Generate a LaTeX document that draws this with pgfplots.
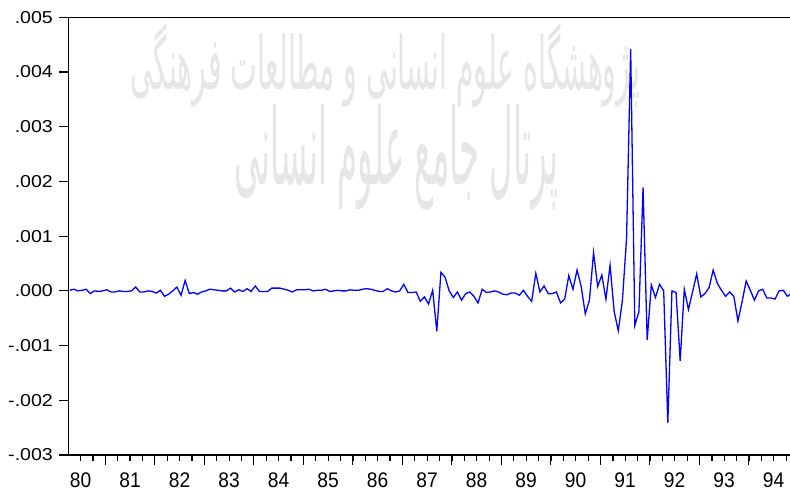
\documentclass[border=0pt]{standalone}
\usepackage{pgfplots}
\pgfplotsset{compat=1.18}
\usepackage{pgfplotstable}
\usepackage{graphicx}
\usepackage{fontspec}
\setmainfont{Liberation Sans}
\newfontfamily\arabicfont[Script=Arabic]{DejaVu Sans}
\TeXXeTstate=1
\definecolor{eblue}{RGB}{0,0,255}
\definecolor{wm}{RGB}{230,230,230}
\newcommand\yl[1]{\scalebox{1}[0.88]{#1}}
\newcommand\xl[1]{\scalebox{1}[1.1]{#1}}
\pgfplotstableread{
i v
0 0.00001
1 0.00003
2 0.0
3 0.00001
4 0.00003
5 -0.00005
6 0.0
7 -0.00001
8 0.0
9 0.00002
10 -0.00002
11 -0.00002
12 0.0
13 -0.00001
14 -0.00001
15 0.0
16 0.00007
17 -0.00002
18 -0.00002
19 0.0
20 -0.00001
21 -0.00004
22 0.00001
23 -0.0001
24 -0.00006
25 0.0
26 0.00007
27 -0.00008
28 0.00019
29 -0.00005
30 -0.00003
31 -0.00006
32 -0.00002
33 0.0
34 0.00003
35 0.00002
36 0.00001
37 0.0
38 0.0
39 0.00005
40 -0.00002
41 0.00002
42 -0.00001
43 0.00004
44 -0.00001
45 0.00009
46 -0.00001
47 -0.00001
48 -0.00001
49 0.00005
50 0.00005
51 0.00005
52 0.00003
53 0.00001
54 -0.00002
55 0.00002
56 0.00002
57 0.00002
58 0.00003
59 0.0
60 0.00001
61 0.00001
62 0.00003
63 -0.00001
64 0.0
65 0.00001
66 0.0
67 0.0
68 0.00002
69 0.00001
70 0.00001
71 0.00003
72 0.00004
73 0.00003
74 0.00001
75 -0.00001
76 -0.00001
77 0.00004
78 0.0
79 -0.00002
80 0.0
81 0.00012
82 -0.00003
83 -0.00003
84 -0.00002
85 -0.00019
86 -0.00011
87 -0.00024
88 0.00001
89 -0.00074
90 0.00034
91 0.00025
92 0.0
93 -0.00012
94 -0.00002
95 -0.00017
96 -0.00005
97 -0.00002
98 -0.0001
99 -0.00022
100 0.00003
101 -0.00003
102 -0.00002
103 0.0
104 -0.00002
105 -0.00006
106 -0.00007
107 -0.00004
108 -0.00004
109 -0.00008
110 0.00001
111 -0.0001
112 -0.00019
113 0.00032
114 -0.00002
115 0.00009
116 -0.00005
117 -0.00005
118 -0.00002
119 -0.00022
120 -0.00015
121 0.00028
122 0.00003
123 0.00038
124 0.00008
125 -0.00042
126 -0.00017
127 0.0007
128 0.00008
129 0.00029
130 -0.00015
131 0.00047
132 -0.00038
133 -0.00073
134 -0.00017
135 0.00096
136 0.00442
137 -0.00063
138 -0.00038
139 0.00189
140 -0.0009
141 0.00011
142 -0.00012
143 0.00012
144 0.0
145 -0.00241
146 0.0
147 -0.00003
148 -0.00128
149 0.00003
150 -0.00034
151 -0.00002
152 0.00031
153 -0.00011
154 -0.00005
155 0.00006
156 0.00038
157 0.00014
158 0.00001
159 -0.0001
160 -0.00002
161 -0.0001
162 -0.00055
163 -0.0002
164 0.00018
165 0.00001
166 -0.00017
167 0.0
168 0.00003
169 -0.00013
170 -0.00013
171 -0.00015
172 0.0
173 0.00001
174 -0.0001
175 -0.00004
}\datatab
\begin{document}
\begin{tikzpicture}
\begin{axis}[
  scale only axis, width=360.75pt, height=218.85pt,
  xmin=1980.2566, xmax=1994.832, ymin=-0.003, ymax=0.005,
  axis lines=left, axis line style={-, line width=0.6pt, black},
  scaled x ticks=false, scaled y ticks=false,
  tick align=outside,
  major tick length=4.75pt, minor tick length=2.8pt,
  every tick/.style={black, line width=0.6pt},
  ytick={-0.003,-0.002,-0.001,0,0.001,0.002,0.003,0.004,0.005},
  yticklabels={\yl{-.003},\yl{-.002},\yl{-.001},\yl{.000},\yl{.001},\yl{.002},\yl{.003},\yl{.004},\yl{.005}},
  yticklabel style={font=\fontsize{9.8}{10}\selectfont, inner sep=0pt, anchor=east, xshift=-2.85pt},
  xtick={1980.5,1981.5,1982.5,1983.5,1984.5,1985.5,1986.5,1987.5,1988.5,1989.5,1990.5,1991.5,1992.5,1993.5,1994.5},
  xticklabels={\xl{80},\xl{81},\xl{82},\xl{83},\xl{84},\xl{85},\xl{86},\xl{87},\xl{88},\xl{89},\xl{90},\xl{91},\xl{92},\xl{93},\xl{94}},
  major x tick style={draw=none},
  xticklabel style={font=\fontsize{9.6}{10}\selectfont, inner sep=0pt, anchor=north, yshift=-4.15pt},
  minor xtick={1980.25,1980.5,...,1994.75},
  extra x ticks={1981,1982,1983,1984,1985,1986,1987,1988,1989,1990,1991,1992,1993,1994},
  extra x tick labels={},
  extra x tick style={major x tick style={draw=black, line width=0.6pt}, major tick length=5pt},
]
\node[text=wm, inner sep=0pt] at (rel axis cs:0.4387,0.891)
  {\resizebox{255pt}{33pt}{\arabicfont\beginR پژوهشگاه علوم انسانی و مطالعات فرهنگی\endR}};
\node[text=wm, inner sep=0pt] at (rel axis cs:0.455,0.681)
  {\resizebox{162pt}{40pt}{\arabicfont\beginR پرتال جامع علوم انسانی\endR}};
\addplot[eblue, line width=0.65pt, mark=none] table[x expr={1980.28+\thisrow{i}/12}, y=v] {\datatab};
\draw[line width=0.6pt, black] (rel axis cs:0,1) -- (rel axis cs:1,1);
\end{axis}
\pgfresetboundingbox
\path[use as bounding box] (-34.25pt,-20pt) rectangle (360.75pt,227.5pt);
\end{tikzpicture}
\end{document}
